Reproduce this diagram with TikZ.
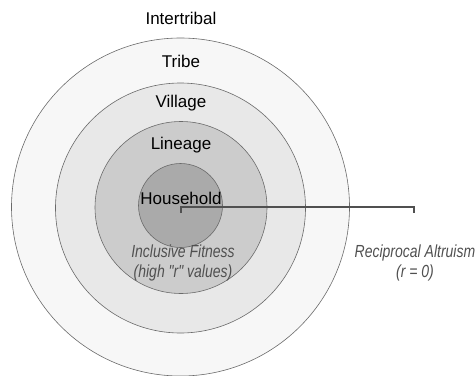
\documentclass[tikz,border=0pt]{standalone}
\usepackage{fontspec}
\setmainfont{Liberation Sans}
\newfontfamily\narrowsans[FakeStretch=0.8]{Liberation Sans}
\usepackage{xcolor}
\usepackage{tikz}
\usetikzlibrary{positioning, calc}
\definecolor{ringA}{HTML}{F7F7F7}
\definecolor{ringB}{HTML}{E8E8E8}
\definecolor{ringC}{HTML}{CCCCCC}
\definecolor{ringD}{HTML}{AAAAAA}
\definecolor{edge}{HTML}{6A6A6A}
\definecolor{note}{HTML}{505050}
\tikzset{
  ring/.style={circle, draw=edge, line width=0.6pt, inner sep=0pt},
  lvl/.style={font=\fontsize{17}{19}\selectfont, inner sep=0pt, text=black},
  remark/.style={font=\narrowsans\itshape\fontsize{17.5}{20}\selectfont, align=center,
                 inner sep=0pt, text=note},
  bracket/.style={draw=note, line width=2pt},
}
\begin{document}
\begin{tikzpicture}[x=1pt, y=-1pt]
  \useasboundingbox (0,0) rectangle (476,375);
  % nested social levels, widest first
  \node[ring, fill=ringA, minimum size=338pt] (tribe)     at (180.5,207) {};
  \node[ring, fill=ringB, minimum size=250pt] (village)   at (180.5,208) {};
  \node[ring, fill=ringC, minimum size=172pt] (lineage)   at (181,207.5) {};
  \node[ring, fill=ringD, minimum size=84pt]  (household) at (180.5,205.5) {};
  % level names
  \node[lvl] (intertribal) at (181,18) {Intertribal};
  \node[lvl] (tribename)   at (181,61) {Tribe};
  \node[lvl] (villname)    at (181,103) {Village};
  \node[lvl] (linname)     at (181,145) {Lineage};
  % bracket from the household out to the reciprocity side
  \coordinate (kin)   at (181,213);
  \coordinate (recip) at (414,213);
  \draw[bracket] (kin) -- ++(0,-6) -| (recip);
  \node[lvl] (hhname) at (181,198) {Household};
  % the two mechanisms
  \node[remark] (incfit) at (183,263) {Inclusive Fitness\\(high "r" values)};
  \node[remark] (recalt) at (415,263) {Reciprocal Altruism\\(r = 0)};
\end{tikzpicture}
\end{document}
